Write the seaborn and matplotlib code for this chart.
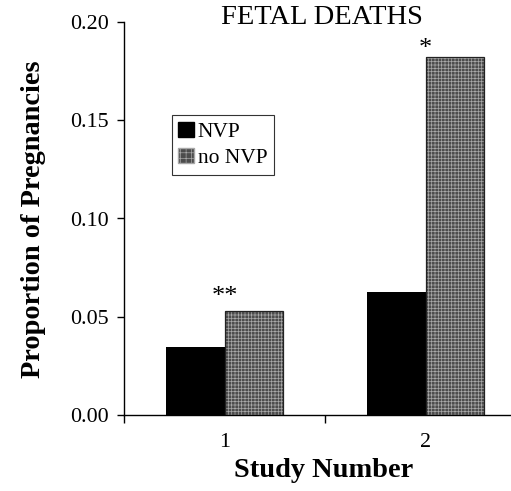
import matplotlib
matplotlib.use('Agg')
import matplotlib.pyplot as plt
import seaborn as sns
import pandas as pd
from matplotlib.patches import Rectangle, Patch

# ---- data ----
studies = ['1', '2']
groups = ['NVP', 'no NVP']
nvp = [0.0345, 0.0625]
no_nvp = [0.053, 0.182]
sig_labels = ['**', '*']
sig_y = [0.057, 0.183]
yticks = [0.00, 0.05, 0.10, 0.15, 0.20]
title = 'FETAL DEATHS'
xlabel = 'Study Number'
ylabel = 'Proportion of Pregnancies'

sns.set_theme(style='ticks')
plt.rcParams['font.family'] = ['Liberation Serif', 'DejaVu Serif']
plt.rcParams['hatch.linewidth'] = 0.5
plt.rcParams['text.color'] = 'black'
plt.rcParams['xtick.color'] = 'black'
plt.rcParams['ytick.color'] = 'black'
plt.rcParams['axes.labelcolor'] = 'black'

df = pd.DataFrame({
    'Study': studies * 2,
    'Group': [groups[0]] * len(studies) + [groups[1]] * len(studies),
    'Proportion': nvp + no_nvp,
})

GREY = '#4c4c4c'
HATCH_C = '#a8a8a8'

fig = plt.figure(figsize=(5.11, 4.91), dpi=100)
ax = fig.add_axes([124 / 511, 76 / 491, 387 / 511, 393 / 491])
sns.barplot(data=df, x='Study', y='Proportion', hue='Group', hue_order=groups,
            order=studies, palette={groups[0]: 'black', groups[1]: GREY},
            width=0.58, gap=0, saturation=1, legend=False, ax=ax)

for p in ax.containers[0]:
    p.set_edgecolor('black')
    p.set_linewidth(0)
for p in ax.containers[1]:
    p.set_hatch('+++++')
    p.set_edgecolor(HATCH_C)
    p.set_linewidth(0)
    ax.add_patch(Rectangle(p.get_xy(), p.get_width(), p.get_height(),
                           fill=False, edgecolor='#222222', linewidth=0.9, zorder=p.get_zorder() + 0.1))

ax.set_xlim(-0.5, 1.425)
ax.set_ylim(0, 0.2)
sns.despine(ax=ax)
for s in ['left', 'bottom']:
    ax.spines[s].set_color('black')
    ax.spines[s].set_linewidth(1.0)

ax.set_yticks(yticks)
ax.set_yticklabels([f'{v:.2f}' for v in yticks])
ax.tick_params(axis='y', length=5, width=1, direction='out', labelsize=15.8, pad=6)
ax.tick_params(axis='x', which='major', length=0, labelsize=15.8, pad=13)
ax.set_xticks([-0.5, 0.5], minor=True)
ax.tick_params(axis='x', which='minor', length=6, width=1, direction='out')

ax.set_xlabel(xlabel, fontsize=20.4, fontweight='bold')
ax.set_ylabel(ylabel, fontsize=20.4, fontweight='bold')
ax.xaxis.label.set_va('center')
ax.yaxis.label.set_va('center')
ax.xaxis.set_label_coords(0.517, -0.14)
ax.yaxis.set_label_coords(-0.2326, 0.499)

fig.text(322 / 511, 1 - 17 / 491, title, ha='center', va='center', fontsize=20.5)

for i, (s, y) in enumerate(zip(sig_labels, sig_y)):
    ax.text(i, y, s, ha='center', va='baseline', fontsize=19)

handles = [Patch(facecolor='black', edgecolor='black'),
           Patch(facecolor=GREY, hatch='+++', edgecolor=HATCH_C)]
leg = ax.legend(handles, groups, loc='upper left', bbox_to_anchor=(0.124, 0.763),
                borderaxespad=0, frameon=True, fancybox=False, edgecolor='#333333',
                framealpha=1, fontsize=15.5, handlelength=0.7, handleheight=0.7,
                handletextpad=0.2, borderpad=0.3, labelspacing=0.3)
leg.get_frame().set_linewidth(0.8)

fig.savefig('out.png', dpi=100)
